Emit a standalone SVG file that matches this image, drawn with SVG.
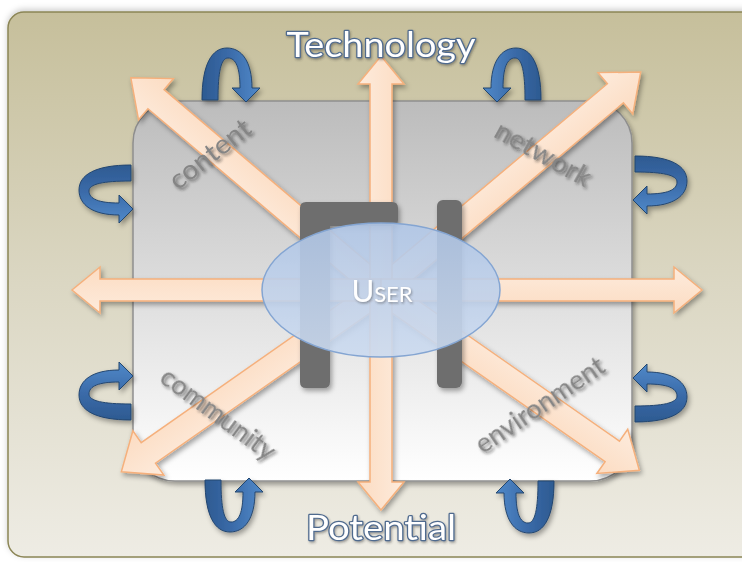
<svg xmlns="http://www.w3.org/2000/svg" width="742" height="562" viewBox="0 0 742 562">
  <defs>
    <linearGradient id="bgGrad" x1="0" y1="0" x2="0" y2="1">
      <stop offset="0" stop-color="#c6bf9b"/>
      <stop offset="0.5" stop-color="#dbd7c3"/>
      <stop offset="1" stop-color="#eeece4"/>
    </linearGradient>
    <linearGradient id="panelGrad" x1="0" y1="0" x2="0" y2="1">
      <stop offset="0" stop-color="#bcbcbc"/>
      <stop offset="1" stop-color="#ffffff"/>
    </linearGradient>
    <linearGradient id="arrowGrad" x1="0" y1="0" x2="0" y2="1">
      <stop offset="0" stop-color="#fdebdc"/>
      <stop offset="1" stop-color="#fcdcc2"/>
    </linearGradient>
    <linearGradient id="loopGrad" x1="0" y1="0" x2="1" y2="0">
      <stop offset="0" stop-color="#2d5a91"/>
      <stop offset="0.45" stop-color="#3a6aa8"/>
      <stop offset="1" stop-color="#5089c9"/>
    </linearGradient>
    <linearGradient id="userGrad" x1="0" y1="0" x2="0" y2="1">
      <stop offset="0" stop-color="#b0c6e6"/>
      <stop offset="1" stop-color="#cbdaef"/>
    </linearGradient>
    <filter id="softShadow" x="-10%" y="-10%" width="130%" height="130%">
      <feDropShadow dx="2" dy="3" stdDeviation="2.5" flood-color="#000" flood-opacity="0.35"/>
    </filter>
    <filter id="frameShadow" x="-5%" y="-5%" width="110%" height="110%">
      <feDropShadow dx="0" dy="-2" stdDeviation="3" flood-color="#000" flood-opacity="0.2"/>
    </filter>
    <filter id="labelShadow" x="-20%" y="-40%" width="140%" height="180%">
      <feGaussianBlur in="SourceGraphic" stdDeviation="0.5" result="soft"/>
      <feDropShadow in="soft" dx="2" dy="2" stdDeviation="1.5" flood-color="#222" flood-opacity="0.55"/>
    </filter>
    <filter id="titleShadow" x="-10%" y="-30%" width="120%" height="160%">
      <feDropShadow dx="1" dy="1.5" stdDeviation="1" flood-color="#333" flood-opacity="0.45"/>
    </filter>
    <!-- twisted ribbon loop: opening at origin, loop toward -y, head on +x leg pointing +y -->
    <path id="loop" d="M -28,0 C -28,-36 -18,-52 -3,-52 C 12,-52 22,-38 22,-12 L 30,-12 L 16,2 L 2,-12 L 10,-12 C 10,-32 6,-42 -2,-42 C -9,-42 -12,-28 -12,0 Z"/>
  </defs>
  <style>
    .arrow { fill: url(#arrowGrad); stroke: #f5b07c; stroke-width: 1.5; stroke-linejoin: miter; }
    .loop { fill: url(#loopGrad); stroke: #24466f; stroke-width: 1; }
    .bar { fill: #6e6e6e; }
    .label { font-family: Lato, "Liberation Sans", sans-serif; font-size: 27px; fill: #858585; text-anchor: middle; }
    .title { font-family: Lato, "Liberation Sans", sans-serif; font-size: 35px; fill: #ffffff; stroke: #4f6a8e; stroke-width: 2.4; stroke-linejoin: round; text-anchor: middle; paint-order: stroke; }
  </style>

  <!-- page -->
  <rect width="742" height="562" fill="#ffffff"/>
  <rect id="frame" x="8" y="12" width="770" height="545" rx="16" fill="url(#bgGrad)" stroke="#8b8555" stroke-width="1.5" filter="url(#frameShadow)"/>

  <!-- central panel -->
  <g id="panel">
    <rect x="133" y="101" width="499" height="380" rx="42" fill="url(#panelGrad)" stroke="#8e8e8e" stroke-width="1.5" filter="url(#softShadow)"/>
  </g>

  <!-- rotating loops around the panel -->
  <g id="loops" filter="url(#softShadow)">
    <use href="#loop" class="loop" transform="translate(230,100)"/>
    <use href="#loop" class="loop" transform="matrix(-1,0,0,1,513,100)"/>
    <use href="#loop" class="loop" transform="matrix(1,0,0,-1,233,480)"/>
    <use href="#loop" class="loop" transform="matrix(-1,0,0,-1,526,481)"/>
    <use href="#loop" class="loop" transform="matrix(0,1,1,0,131,193)"/>
    <use href="#loop" class="loop" transform="matrix(0,-1,1,0,131,392)"/>
    <use href="#loop" class="loop" transform="matrix(0,1,-1,0,635,184)"/>
    <use href="#loop" class="loop" transform="matrix(0,-1,-1,0,635,394)"/>
  </g>

  <!-- radiating arrows -->
  <g id="connectors" filter="url(#softShadow)">
    <polygon class="arrow" transform="translate(381,290) rotate(-139.7)" points="0,-12.5 295,-12.5 295,-27 328,0 295,27 295,12.5 0,12.5"/>
    <polygon class="arrow" transform="translate(381,290) rotate(-40)" points="0,-12.5 306,-12.5 306,-27 339,0 306,27 306,12.5 0,12.5"/>
    <polygon class="arrow" transform="translate(381,290) rotate(145)" points="0,-12.5 284,-12.5 284,-27 317,0 284,27 284,12.5 0,12.5"/>
    <polygon class="arrow" transform="translate(381,290) rotate(34.9)" points="0,-12.5 282,-12.5 282,-27 315,0 282,27 282,12.5 0,12.5"/>
    <polygon class="arrow" transform="translate(381,290) rotate(-90)" points="0,-11 206,-11 206,-23 234,0 206,23 206,11 0,11"/>
    <polygon class="arrow" transform="translate(381,290) rotate(90)" points="0,-11 192,-11 192,-23 220,0 192,23 192,11 0,11"/>
    <polygon class="arrow" transform="translate(381,290) rotate(180)" points="0,-11 281,-11 281,-23 309,0 281,23 281,11 0,11"/>
    <polygon class="arrow" transform="translate(381,290)" points="0,-11 293,-11 293,-23 321,0 293,23 293,11 0,11"/>
  </g>

  <!-- dark uprights behind the user -->
  <g id="uprights" filter="url(#softShadow)">
    <path class="bar" d="M 306,202 H 392 Q 398,202 398,208 V 220 Q 398,226 392,226 H 330 V 382 Q 330,388 324,388 H 306 Q 300,388 300,382 V 208 Q 300,202 306,202 Z"/>
    <rect class="bar" x="437" y="200" width="25" height="188" rx="6"/>
  </g>

  <!-- user -->
  <g id="user">
    <ellipse cx="381" cy="290" rx="119" ry="67" fill="url(#userGrad)" fill-opacity="0.9" stroke="#84a5d2" stroke-width="1.5"/>
    <text x="382" y="302" font-family="Lato, 'Liberation Sans', sans-serif" fill="#ffffff" text-anchor="middle" filter="url(#titleShadow)"><tspan font-size="31">U</tspan><tspan font-size="22">SER</tspan></text>
  </g>

  <!-- sector labels -->
  <g id="labels" filter="url(#labelShadow)">
    <text class="label" transform="translate(210,154) rotate(-38)" dy="9" textLength="96" lengthAdjust="spacingAndGlyphs">content</text>
    <text class="label" transform="translate(543,154) rotate(29)" dy="9" textLength="106" lengthAdjust="spacingAndGlyphs">network</text>
    <text class="label" transform="translate(218,414) rotate(36.5)" dy="9" textLength="136" lengthAdjust="spacingAndGlyphs">community</text>
    <text class="label" transform="translate(540,405) rotate(-34)" dy="9" textLength="150" lengthAdjust="spacingAndGlyphs">environment</text>
  </g>

  <!-- axis titles -->
  <g id="titles" filter="url(#titleShadow)">
    <text class="title" x="381" y="57" textLength="189" lengthAdjust="spacingAndGlyphs">Technology</text>
    <text class="title" x="381" y="540" textLength="150" lengthAdjust="spacingAndGlyphs">Potential</text>
  </g>
</svg>
